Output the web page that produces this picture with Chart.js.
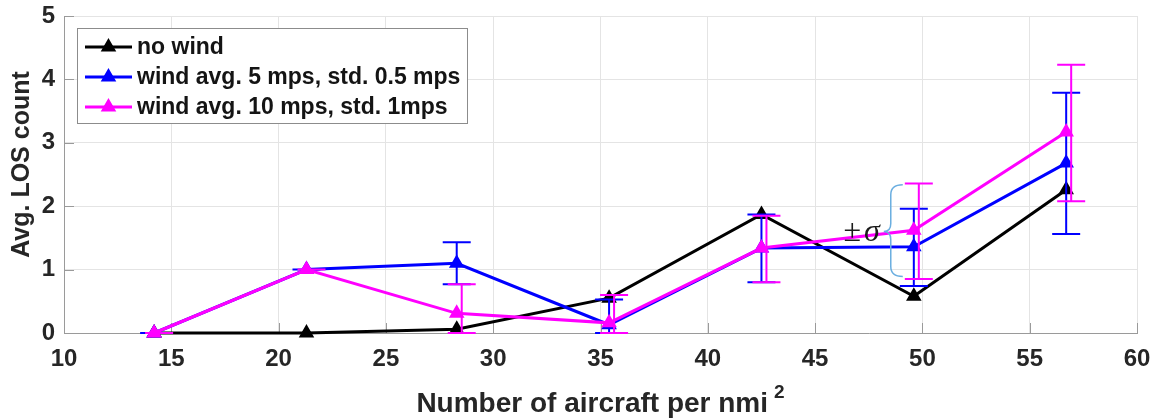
<!DOCTYPE html>
<html>
<head>
<meta charset="utf-8">
<script src="https://cdn.jsdelivr.net/npm/chart.js@4/dist/chart.umd.min.js"></script>
<style>
html,body{margin:0;padding:0;background:#ffffff;}
#wrap{width:1157px;height:418px;position:relative;}
</style>
</head>
<body>
<div id="wrap"><canvas id="c" width="1157" height="418"></canvas></div>
<script>
// ---- data ----
const xValues = [14.2, 21.3, 28.3, 35.4, 42.5, 49.6, 56.7];
const noWind = [0, 0, 0.06, 0.55, 1.87, 0.58, 2.26];
const wind5 = [0, 1.0, 1.10, 0.13, 1.34, 1.36, 2.68];
const wind10 = [0, 1.0, 0.31, 0.16, 1.34, 1.62, 3.17];
const wind5Low = [0, 1.0, 0.77, 0, 0.80, 0.74, 1.56];
const wind5High = [0, 1.0, 1.43, 0.53, 1.87, 1.96, 3.79];
const wind10Low = [0, 1.0, 0, 0, 0.80, 0.85, 2.08];
const wind10High = [0, 1.0, 0.77, 0.60, 1.85, 2.36, 4.23];
const seriesLabels = ['no wind', 'wind avg. 5 mps, std. 0.5 mps', 'wind avg. 10 mps, std. 1mps'];
const xTicks = [10, 15, 20, 25, 30, 35, 40, 45, 50, 55, 60];
const yTicks = [0, 1, 2, 3, 4, 5];
const xTitle = 'Number of aircraft per nmi';
const xTitleSup = '2';
const yTitle = 'Avg. LOS count';
const noteText = ['\u00B1', '\u03C3'];
const noteAnchor = { x: 48.2, y: 1.6, top: 2.34, bottom: 0.89 };

const toPts = (ys) => xValues.map((x, i) => ({ x: x, y: ys[i] }));

const SANS = "'Liberation Sans', Arial, Helvetica, sans-serif";
const TICK_FONT = { family: SANS, size: 24, weight: 'bold' };

const errorBarPlugin = {
  id: 'errorBars',
  afterDatasetDraw(chart, args) {
    const ds = chart.data.datasets[args.index];
    if (!ds.errLow) return;
    const ctx = chart.ctx, xs = chart.scales.x, ys = chart.scales.y, ca = chart.chartArea;
    ctx.save();
    ctx.beginPath();
    ctx.rect(ca.left, ca.top - 2, ca.right - ca.left, ca.bottom - ca.top + 3);
    ctx.clip();
    ctx.strokeStyle = ds.borderColor;
    ctx.lineWidth = 2;
    const off = ds.errOffset || 0, cap = 14;
    ds.data.forEach((p, i) => {
      const x = xs.getPixelForValue(p.x) + off;
      const y1 = ys.getPixelForValue(ds.errLow[i]);
      const y2 = ys.getPixelForValue(ds.errHigh[i]);
      ctx.beginPath();
      ctx.moveTo(x, y1); ctx.lineTo(x, y2);
      ctx.moveTo(x - cap, y1); ctx.lineTo(x + cap, y1);
      ctx.moveTo(x - cap, y2); ctx.lineTo(x + cap, y2);
      ctx.stroke();
    });
    ctx.restore();
  }
};

const tickMarkPlugin = {
  id: 'tickMarks',
  beforeDatasetsDraw(chart) {
    const ctx = chart.ctx, ca = chart.chartArea, xs = chart.scales.x, ys = chart.scales.y;
    ctx.save();
    ctx.strokeStyle = '#9a9a9a';
    ctx.lineWidth = 1;
    ctx.beginPath();
    xTicks.forEach(v => {
      const x = Math.round(xs.getPixelForValue(v)) + 0.5;
      ctx.moveTo(x, ca.bottom); ctx.lineTo(x, ca.bottom - 10);
    });
    yTicks.forEach(v => {
      const y = Math.round(ys.getPixelForValue(v)) + 0.5;
      ctx.moveTo(ca.left, y); ctx.lineTo(ca.left + 10, y);
    });
    ctx.stroke();
    ctx.restore();
  }
};

function triangle(ctx, x, y, r, fill, stroke, lw) {
  ctx.beginPath();
  for (let k = 0; k < 3; k++) {
    const a = -Math.PI / 2 + k * 2 * Math.PI / 3;
    const px = x + Math.cos(a) * r, py = y + Math.sin(a) * r;
    if (k === 0) ctx.moveTo(px, py); else ctx.lineTo(px, py);
  }
  ctx.closePath();
  ctx.fillStyle = fill; ctx.fill();
  ctx.strokeStyle = stroke; ctx.lineWidth = lw; ctx.stroke();
}

const titlesPlugin = {
  id: 'axisTitles',
  afterDraw(chart) {
    const ctx = chart.ctx, ca = chart.chartArea;
    ctx.save();
    ctx.fillStyle = '#262626';
    // x title with superscript
    ctx.font = 'bold 28px ' + SANS;
    const w1 = ctx.measureText(xTitle).width;
    ctx.font = 'bold 19px ' + SANS;
    const w2 = ctx.measureText(xTitleSup).width;
    const gap = 6;
    const cx = (ca.left + ca.right) / 2;
    const start = cx - (w1 + gap + w2) / 2;
    const base = ca.bottom + 79;
    ctx.textAlign = 'left';
    ctx.textBaseline = 'alphabetic';
    ctx.font = 'bold 28px ' + SANS;
    ctx.fillText(xTitle, start, base);
    ctx.font = 'bold 19px ' + SANS;
    ctx.fillText(xTitleSup, start + w1 + gap, base - 14);
    // y title
    ctx.translate(ca.left - 42, (ca.top + ca.bottom) / 2 - 10);
    ctx.rotate(-Math.PI / 2);
    ctx.textAlign = 'center';
    ctx.textBaseline = 'middle';
    ctx.font = 'bold 25px ' + SANS;
    ctx.fillText(yTitle, 0, 0);
    ctx.restore();
  }
};

const overlayPlugin = {
  id: 'overlay',
  afterDatasetsDraw(chart) {
    const ctx = chart.ctx, ca = chart.chartArea, xs = chart.scales.x, ys = chart.scales.y;
    ctx.save();
    // sigma brace annotation
    const tip = xs.getPixelForValue(noteAnchor.x);
    const mid = ys.getPixelForValue(noteAnchor.y);
    const top = ys.getPixelForValue(noteAnchor.top);
    const bot = ys.getPixelForValue(noteAnchor.bottom);
    const spine = tip + 7, end = tip + 19;
    ctx.strokeStyle = '#6aaee0';
    ctx.lineWidth = 1.5;
    ctx.beginPath();
    ctx.moveTo(end, top);
    ctx.quadraticCurveTo(spine, top, spine, top + 10);
    ctx.lineTo(spine, mid - 8);
    ctx.quadraticCurveTo(spine, mid, tip, mid);
    ctx.quadraticCurveTo(spine, mid, spine, mid + 8);
    ctx.lineTo(spine, bot - 10);
    ctx.quadraticCurveTo(spine, bot, end, bot);
    ctx.stroke();
    ctx.fillStyle = '#1a1a1a';
    ctx.textBaseline = 'alphabetic';
    ctx.textAlign = 'right';
    const base = mid + 9;
    ctx.font = "italic 32px 'Liberation Serif', 'DejaVu Serif', serif";
    const sw = ctx.measureText(noteText[1]).width;
    ctx.fillText(noteText[1], tip - 4, base);
    ctx.font = "32px 'Liberation Serif', 'DejaVu Serif', serif";
    ctx.fillText(noteText[0], tip - 4 - sw - 3, base);

    // legend box
    const lx = ca.left + 13, ly = ca.top + 12, lw = 390, lh = 95;
    ctx.fillStyle = '#ffffff';
    ctx.fillRect(lx, ly, lw, lh);
    ctx.strokeStyle = '#8c8c8c';
    ctx.lineWidth = 1;
    ctx.strokeRect(Math.round(lx) + 0.5, Math.round(ly) + 0.5, lw, lh);
    ctx.font = 'bold 23px ' + SANS;
    ctx.textAlign = 'left';
    ctx.textBaseline = 'middle';
    const order = [2, 1, 0];
    order.forEach((di, row) => {
      const ds = chart.data.datasets[di];
      const cy = ly + 19 + row * 30;
      ctx.strokeStyle = ds.borderColor;
      ctx.lineWidth = 3;
      ctx.beginPath();
      ctx.moveTo(lx + 8, cy); ctx.lineTo(lx + 55, cy);
      ctx.stroke();
      triangle(ctx, lx + 31.5, cy, 6.5, ds.pointBackgroundColor, ds.borderColor, 2.5);
      ctx.fillStyle = '#141414';
      ctx.fillText(ds.label, lx + 60, cy + 1);
    });
    ctx.restore();
  }
};

const chart = new Chart(document.getElementById('c'), {
  type: 'line',
  data: {
    datasets: [
      {
        label: seriesLabels[2], data: toPts(wind10), borderColor: '#ff00ff', backgroundColor: '#ff00ff',
        pointBackgroundColor: '#ff00ff', errLow: wind10Low, errHigh: wind10High, errOffset: 5, order: 0
      },
      {
        label: seriesLabels[1], data: toPts(wind5), borderColor: '#0000ff', backgroundColor: '#0000ff',
        pointBackgroundColor: '#0000ff', errLow: wind5Low, errHigh: wind5High, errOffset: 0, order: 1
      },
      {
        label: seriesLabels[0], data: toPts(noWind), borderColor: '#000000', backgroundColor: '#000000',
        pointBackgroundColor: '#000000', order: 2
      }
    ]
  },
  options: {
    responsive: false,
    animation: false,
    devicePixelRatio: 1,
    clip: false,
    layout: { padding: { left: 0, right: 20, top: 16, bottom: 0 } },
    elements: {
      line: { borderWidth: 3, tension: 0, fill: false },
      point: { pointStyle: 'triangle', radius: 6.5, borderWidth: 2.5, hoverRadius: 6.5 }
    },
    plugins: { legend: { display: false }, tooltip: { enabled: false } },
    scales: {
      x: {
        type: 'linear', min: 10, max: 60,
        afterBuildTicks: s => { s.ticks = xTicks.map(v => ({ value: v })); },
        afterFit: s => { s.height = 85; },
        grid: { color: '#e4e4e4', lineWidth: 1, drawTicks: true, tickLength: 12, tickColor: 'rgba(0,0,0,0)' },
        border: { display: true, color: '#9a9a9a', width: 1 },
        ticks: { color: '#262626', font: TICK_FONT, padding: 0, maxRotation: 0, autoSkip: false },
        title: { display: false }
      },
      y: {
        type: 'linear', min: 0, max: 5,
        afterBuildTicks: s => { s.ticks = yTicks.map(v => ({ value: v })); },
        afterFit: s => { s.width = 64; },
        grid: { color: '#e4e4e4', lineWidth: 1, drawTicks: true, tickLength: 9, tickColor: 'rgba(0,0,0,0)' },
        border: { display: true, color: '#9a9a9a', width: 1 },
        ticks: { color: '#262626', font: TICK_FONT, padding: 0 },
        title: { display: false }
      }
    }
  },
  plugins: [tickMarkPlugin, errorBarPlugin, overlayPlugin, titlesPlugin]
});
</script>
</body>
</html>
